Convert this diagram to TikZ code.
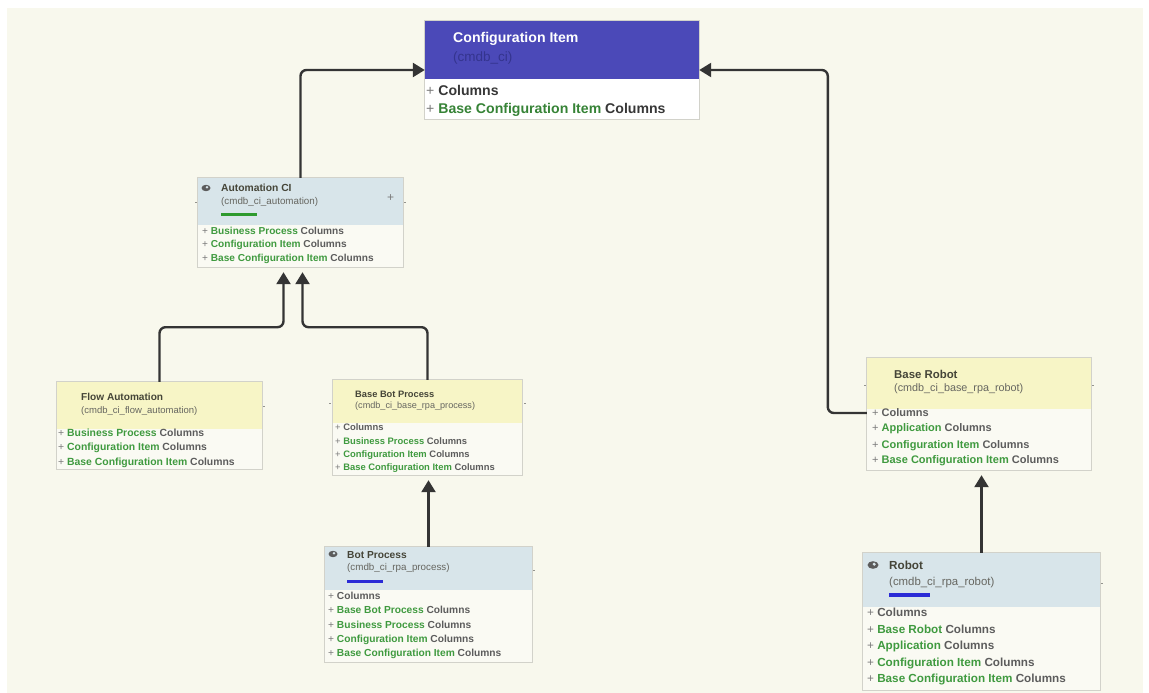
\documentclass[tikz,border=0pt]{standalone}
\usepackage{fontspec}
\setmainfont{Liberation Sans}
\usetikzlibrary{arrows.meta,calc,fit}
\definecolor{bg}{HTML}{F8F8ED}
\definecolor{cihead}{HTML}{4B49B8}
\definecolor{cisub}{HTML}{34348E}
\definecolor{bluehd}{HTML}{D8E5EA}
\definecolor{yelhd}{HTML}{F7F5C6}
\definecolor{bodyc}{HTML}{FAFAF3}
\definecolor{bord}{HTML}{D2D2CA}
\definecolor{gr}{HTML}{3F9A3F}
\definecolor{gy}{HTML}{5C5C5C}
\definecolor{pl}{HTML}{7A7A7A}
\definecolor{ttl}{HTML}{454538}
\definecolor{sub}{HTML}{666660}
\definecolor{conn}{HTML}{343434}
\definecolor{gbar}{HTML}{2E9A2E}
\definecolor{bbar}{HTML}{2B2BD6}
\newcommand\fsz[1]{\fontsize{#1}{#1}\selectfont}
\newcommand\crow[1]{{\color{pl}\mdseries+} {\color{gr}#1} {\color{gy}Columns}}
\newcommand\prow{{\color{pl}\mdseries+} {\color{gy}Columns}}
\tikzset{
  frame/.style={inner sep=0pt, fill=bodyc},
  bline/.style={draw=bord, line width=0.8pt},
  txt/.style={anchor=west, inner sep=0pt},
  arr/.style={draw=conn, line width=2.4pt, rounded corners=6pt, -{Triangle[width=14pt,length=12pt]}},
  tick/.style={draw=bord!70!black, line width=0.7pt},
}
\begin{document}
\begin{tikzpicture}[x=1pt,y=-1pt]
\useasboundingbox (0,0) rectangle (1149,693);
\fill[white] (0,0) rectangle (1149,693);
\fill[bg] (7,8) rectangle (1143,693);

% ---------- Configuration Item ----------
\node[fit={(425,21)(699,119)}, inner sep=0pt, fill=white] (ci) {};
\fill[cihead] (ci.north west) rectangle ($(ci.north east)+(0,58)$);
\draw[bline] (ci.north west) rectangle (ci.south east);
\node[txt, font=\fsz{14.1}\bfseries, text=white] (ci-t) at (453,39) {Configuration Item};
\node[txt, font=\fsz{13.5}, text=cisub] (ci-s) at (453,58) {(cmdb\_ci)};
\node[txt, font=\fsz{14.1}\bfseries] (ci-r1) at (426,90) {{\color{pl}\mdseries+} {\color{gy!60!black}Columns}};
\node[txt, font=\fsz{14.1}\bfseries] (ci-r2) at (426,110) {{\color{pl}\mdseries+} {\color{gr!85!black}Base Configuration Item} {\color{gy!60!black}Columns}};

% ---------- Automation CI ----------
\node[fit={(198,178)(403,267)}, frame] (auto) {};
\fill[bluehd] (auto.north west) rectangle ($(auto.north east)+(0,47)$);
\draw[bline] (auto.north west) rectangle (auto.south east);
\fill[gy] (206,188) ellipse (4.5 and 3.2);
\fill[bluehd] (207,187.3) circle (1.4);
\node[txt, font=\fsz{10.3}\bfseries, text=ttl] (auto-t) at (221,188) {Automation CI};
\node[txt, font=\fsz{9.8}, text=sub] (auto-s) at (221,202) {(cmdb\_ci\_automation)};
\fill[gbar] (221,212.5) rectangle (257,216);
\node[txt, font=\fsz{12}, text=pl] (auto-p) at (387,198) {+};
\node[txt, font=\fsz{10.1}\bfseries] (auto-r1) at (202,231) {\crow{Business Process}};
\node[txt, font=\fsz{10.1}\bfseries] (auto-r2) at (202,245) {\crow{Configuration Item}};
\node[txt, font=\fsz{10.1}\bfseries] (auto-r3) at (202,259) {\crow{Base Configuration Item}};
\draw[tick] (195,202) -- (197,202);
\draw[tick] (404,202) -- (406,202);

% ---------- Flow Automation ----------
\node[fit={(57,382)(262,469)}, frame] (fa) {};
\fill[yelhd] (fa.north west) rectangle ($(fa.north east)+(0,47)$);
\draw[bline] (fa.north west) rectangle (fa.south east);
\node[txt, font=\fsz{10.1}\bfseries, text=ttl] (fa-t) at (81,397) {Flow Automation};
\node[txt, font=\fsz{9.5}, text=sub] (fa-s) at (81,411) {(cmdb\_ci\_flow\_automation)};
\node[txt, font=\fsz{10.4}\bfseries] (fa-r1) at (58,433) {\crow{Business Process}};
\node[txt, font=\fsz{10.4}\bfseries] (fa-r2) at (58,448) {\crow{Configuration Item}};
\node[txt, font=\fsz{10.4}\bfseries] (fa-r3) at (58,463) {\crow{Base Configuration Item}};
\draw[tick] (263,406) -- (265,406);

% ---------- Base Bot Process ----------
\node[fit={(333,380)(522,475)}, frame] (bbp) {};
\fill[yelhd] (bbp.north west) rectangle ($(bbp.north east)+(0,43)$);
\draw[bline] (bbp.north west) rectangle (bbp.south east);
\node[txt, font=\fsz{9.3}\bfseries, text=ttl] (bbp-t) at (355,394) {Base Bot Process};
\node[txt, font=\fsz{9.1}, text=sub] (bbp-s) at (355,406) {(cmdb\_ci\_base\_rpa\_process)};
\node[txt, font=\fsz{9.4}\bfseries] (bbp-r1) at (335,427) {\prow};
\node[txt, font=\fsz{9.4}\bfseries] (bbp-r2) at (335,441) {\crow{Business Process}};
\node[txt, font=\fsz{9.4}\bfseries] (bbp-r3) at (335,455) {\crow{Configuration Item}};
\node[txt, font=\fsz{9.4}\bfseries] (bbp-r4) at (335,468) {\crow{Base Configuration Item}};
\draw[tick] (329,403) -- (331,403);
\draw[tick] (524,403) -- (526,403);

% ---------- Bot Process ----------
\node[fit={(325,547)(532,662)}, frame] (bp) {};
\fill[bluehd] (bp.north west) rectangle ($(bp.north east)+(0,43)$);
\draw[bline] (bp.north west) rectangle (bp.south east);
\fill[gy] (333,554) ellipse (4.5 and 3.2);
\fill[bluehd] (334,553.3) circle (1.4);
\node[txt, font=\fsz{10.2}\bfseries, text=ttl] (bp-t) at (347,555) {Bot Process};
\node[txt, font=\fsz{9.8}, text=sub] (bp-s) at (347,568) {(cmdb\_ci\_rpa\_process)};
\fill[bbar] (347,579.5) rectangle (383,583);
\node[txt, font=\fsz{10.2}\bfseries] (bp-r1) at (328,596) {\prow};
\node[txt, font=\fsz{10.2}\bfseries] (bp-r2) at (328,610) {\crow{Base Bot Process}};
\node[txt, font=\fsz{10.2}\bfseries] (bp-r3) at (328,625) {\crow{Business Process}};
\node[txt, font=\fsz{10.2}\bfseries] (bp-r4) at (328,640) {\crow{Configuration Item}};
\node[txt, font=\fsz{10.2}\bfseries] (bp-r5) at (328,654) {\crow{Base Configuration Item}};
\draw[tick] (533,570) -- (535,570);

% ---------- Base Robot ----------
\node[fit={(867,358)(1091,470)}, frame] (br) {};
\fill[yelhd] (br.north west) rectangle ($(br.north east)+(0,51)$);
\draw[bline] (br.north west) rectangle (br.south east);
\node[txt, font=\fsz{11.4}\bfseries, text=ttl] (br-t) at (894,374) {Base Robot};
\node[txt, font=\fsz{10.8}, text=sub] (br-s) at (894,389) {(cmdb\_ci\_base\_rpa\_robot)};
\node[txt, font=\fsz{11}\bfseries] (br-r1) at (872,413) {\prow};
\node[txt, font=\fsz{11}\bfseries] (br-r2) at (872,429) {\crow{Application}};
\node[txt, font=\fsz{11}\bfseries] (br-r3) at (872,446) {\crow{Configuration Item}};
\node[txt, font=\fsz{11}\bfseries] (br-r4) at (872,461) {\crow{Base Configuration Item}};
\draw[tick] (864,385) -- (866,385);
\draw[tick] (1092,385) -- (1094,385);

% ---------- Robot ----------
\node[fit={(863,553)(1100,690)}, frame] (rb) {};
\fill[bluehd] (rb.north west) rectangle ($(rb.north east)+(0,54)$);
\draw[bline] (rb.north west) rectangle (rb.south east);
\fill[gy] (873,565) ellipse (5.5 and 3.8);
\fill[bluehd] (874.2,564.2) circle (1.7);
\node[txt, font=\fsz{11.7}\bfseries, text=ttl] (rb-t) at (889,565) {Robot};
\node[txt, font=\fsz{11.4}, text=sub] (rb-s) at (889,583) {(cmdb\_ci\_rpa\_robot)};
\fill[bbar] (889,593) rectangle (930,597);
\node[txt, font=\fsz{11.7}\bfseries] (rb-r1) at (867,612) {\prow};
\node[txt, font=\fsz{11.7}\bfseries] (rb-r2) at (867,629) {\crow{Base Robot}};
\node[txt, font=\fsz{11.7}\bfseries] (rb-r3) at (867,646) {\crow{Application}};
\node[txt, font=\fsz{11.7}\bfseries] (rb-r4) at (867,663) {\crow{Configuration Item}};
\node[txt, font=\fsz{11.7}\bfseries] (rb-r5) at (867,679) {\crow{Base Configuration Item}};
\draw[tick] (1101,583) -- (1103,583);

% ---------- Connectors ----------
\draw[arr] (auto.north) |- (ci.west);
\draw[arr] (br.west |- br-r1) -- ++(-39,0) |- (ci.east);
\draw[arr, shorten >=5pt] (fa.north) |- ($(auto.south)+(-17,60)$) -- ($(auto.south)+(-17,0)$);
\draw[arr, shorten >=5pt] (bbp.north) |- ($(auto.south)+(2,60)$) -- ($(auto.south)+(2,0)$);
\draw[arr, shorten >=5pt] (bp.north) -- (bp.north |- bbp.south);
\draw[arr, shorten >=5pt] (rb.north) -- (rb.north |- br.south);
\end{tikzpicture}
\end{document}
